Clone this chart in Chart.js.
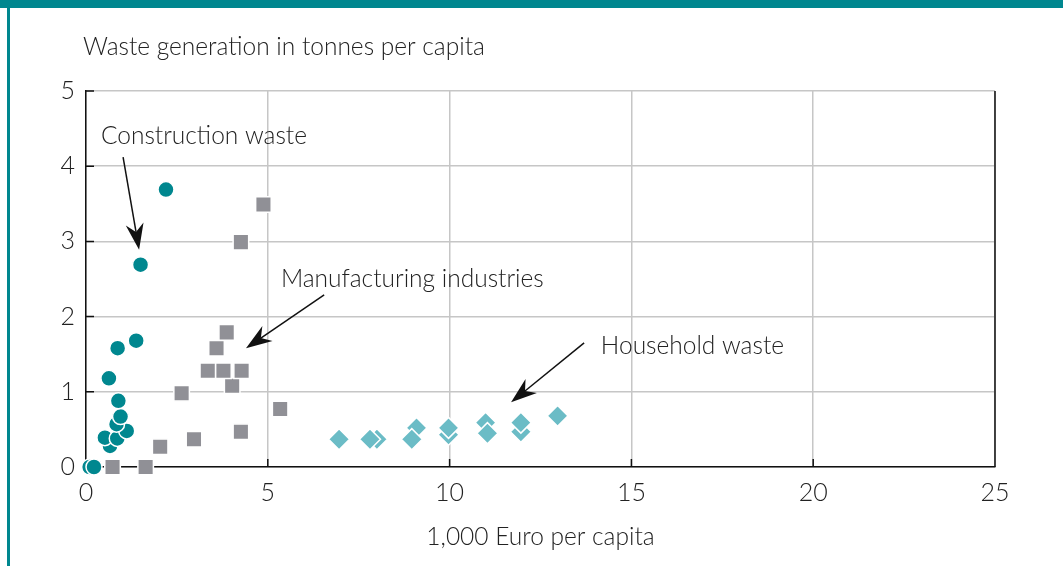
<!DOCTYPE html>
<html>
<head>
<meta charset="utf-8">
<script src="https://cdn.jsdelivr.net/npm/chart.js@4.4.1/dist/chart.umd.min.js"></script>
<style>
  body { margin: 0; background: #fff; }
  #wrap { width: 1063px; height: 566px; position: relative; }
</style>
</head>
<body>
<div id="wrap"><canvas id="chart"></canvas></div>
<script>
// values (x = 1,000 Euro per capita, y = tonnes per capita)
const constructionX = [0.10, 0.22, 0.66, 0.52, 0.86, 1.12, 0.84, 0.95, 0.89, 0.63, 0.87, 1.38, 1.50, 2.20];
const constructionY = [0, 0, 0.28, 0.39, 0.38, 0.48, 0.57, 0.67, 0.88, 1.18, 1.58, 1.68, 2.69, 3.69];

const manufacturingX = [0.73, 1.64, 2.04, 2.97, 4.26, 2.63, 5.34, 4.02, 3.35, 3.78, 4.28, 3.59, 3.87, 4.26, 4.88];
const manufacturingY = [0, 0, 0.27, 0.37, 0.47, 0.98, 0.77, 1.08, 1.28, 1.28, 1.28, 1.58, 1.79, 2.99, 3.49];

const householdX = [8.00, 7.81, 6.96, 9.09, 8.96, 9.97, 9.97, 10.99, 11.04, 11.96, 11.96, 12.97];
const householdY = [0.37, 0.37, 0.37, 0.52, 0.37, 0.43, 0.52, 0.59, 0.45, 0.47, 0.59, 0.68];

const xTicks = [0, 5, 10, 15, 20, 25];
const yTicks = [0, 1, 2, 3, 4, 5];

const yTitle = "Waste generation in tonnes per capita";
const xTitle = "1,000 Euro per capita";

// labels with arrows, in data units
const notes = [
    { text: "Construction waste", x: 0.41, y: 4.40, from: [1.02, 4.12], to: [1.46, 2.89] },
    { text: "Manufacturing industries", x: 5.36, y: 2.50, from: [6.55, 2.29], to: [4.40, 1.58] },
    { text: "Household waste", x: 14.16, y: 1.61, from: [13.70, 1.65], to: [11.69, 0.86] }
];

const FONT = "Lato, 'Open Sans', sans-serif";
const TEXT = "#222";

function toPoints(xs, ys) {
    return xs.map((x, i) => ({ x: x, y: ys[i] }));
}

function arrow(ctx, x1, y1, x2, y2) {
    const ang = Math.atan2(y2 - y1, x2 - x1);
    const len = 26, half = 9, back = 18;
    ctx.save();
    ctx.strokeStyle = "#111";
    ctx.fillStyle = "#111";
    ctx.lineWidth = 1.5;
    ctx.beginPath();
    ctx.moveTo(x1, y1);
    ctx.lineTo(x2 - Math.cos(ang) * back, y2 - Math.sin(ang) * back);
    ctx.stroke();
    ctx.translate(x2, y2);
    ctx.rotate(ang);
    ctx.beginPath();
    ctx.moveTo(0, 0);
    ctx.lineTo(-len, -half);
    ctx.lineTo(-back, 0);
    ctx.lineTo(-len, half);
    ctx.closePath();
    ctx.fill();
    ctx.restore();
}

const decor = {
    id: "decor",
    beforeDraw(chart) {
        const ctx = chart.ctx;
        ctx.save();
        ctx.fillStyle = "#fff";
        ctx.fillRect(0, 0, chart.width, chart.height);
        ctx.restore();
    },
    afterDraw(chart) {
        const ctx = chart.ctx;
        const xs = chart.scales.x, ys = chart.scales.y;
        const a = chart.chartArea;

        ctx.save();
        // teal frame
        ctx.fillStyle = "#00878f";
        ctx.fillRect(0, 0, chart.width, 8);
        ctx.fillRect(7, 0, 3, chart.height);

        // right border and inner ticks
        ctx.strokeStyle = "#111";
        ctx.lineWidth = 1.5;
        ctx.beginPath();
        ctx.moveTo(a.right, a.top);
        ctx.lineTo(a.right, a.bottom);
        yTicks.slice(1).forEach(v => {
            const py = ys.getPixelForValue(v);
            ctx.moveTo(a.left, py);
            ctx.lineTo(a.left + 8, py);
        });
        xTicks.slice(1).forEach(v => {
            const px = xs.getPixelForValue(v);
            ctx.moveTo(px, a.bottom);
            ctx.lineTo(px, a.bottom - 8);
        });
        ctx.stroke();

        // titles
        ctx.fillStyle = TEXT;
        ctx.font = "300 24.5px " + FONT;
        ctx.textBaseline = "middle";
        ctx.textAlign = "left";
        ctx.fillText(yTitle, 83, 47);
        ctx.textAlign = "center";
        ctx.fillText(xTitle, (a.left + a.right) / 2, 537);

        // annotations
        ctx.textAlign = "left";
        notes.forEach(n => {
            ctx.fillText(n.text, xs.getPixelForValue(n.x), ys.getPixelForValue(n.y));
            arrow(ctx,
                xs.getPixelForValue(n.from[0]), ys.getPixelForValue(n.from[1]),
                xs.getPixelForValue(n.to[0]), ys.getPixelForValue(n.to[1]));
        });
        ctx.restore();
    }
};

new Chart(document.getElementById("chart"), {
    type: "scatter",
    data: {
        datasets: [
            {
                label: "Household waste",
                data: toPoints(householdX, householdY),
                pointStyle: "rectRot",
                pointRadius: 10.5,
                backgroundColor: "#6bbcc6",
                borderColor: "#fff",
                borderWidth: 1.5,
                clip: false
            },
            {
                label: "Manufacturing industries",
                data: toPoints(manufacturingX, manufacturingY),
                pointStyle: "rect",
                pointRadius: 11,
                backgroundColor: "#909096",
                borderColor: "#fff",
                borderWidth: 1.5,
                clip: false
            },
            {
                label: "Construction waste",
                data: toPoints(constructionX, constructionY),
                pointStyle: "circle",
                pointRadius: 8,
                backgroundColor: "#00878f",
                borderColor: "#fff",
                borderWidth: 1.5,
                clip: false
            }
        ]
    },
    options: {
        responsive: true,
        maintainAspectRatio: false,
        animation: false,
        layout: {
            padding: { left: 0, top: 91, right: 68, bottom: 0 }
        },
        plugins: {
            legend: { display: false },
            tooltip: { enabled: false }
        },
        scales: {
            x: {
                type: "linear",
                min: 0,
                max: 25,
                afterBuildTicks: s => { s.ticks = xTicks.map(v => ({ value: v })); },
                afterFit: s => { s.height = 99; },
                grid: {
                    color: "#c6c6c6",
                    lineWidth: 1.5,
                    drawTicks: false
                },
                border: { color: "#111", width: 1.5 },
                ticks: {
                    padding: 11,
                    color: TEXT,
                    font: { family: FONT, size: 25, weight: 300 }
                }
            },
            y: {
                type: "linear",
                min: 0,
                max: 5,
                afterBuildTicks: s => { s.ticks = yTicks.map(v => ({ value: v })); },
                afterFit: s => { s.width = 86; },
                grid: {
                    color: "#c6c6c6",
                    lineWidth: 1.5,
                    drawTicks: false
                },
                border: { color: "#111", width: 1.5 },
                ticks: {
                    padding: 11,
                    color: TEXT,
                    font: { family: FONT, size: 25, weight: 300 }
                }
            }
        }
    },
    plugins: [decor]
});
</script>
</body>
</html>
